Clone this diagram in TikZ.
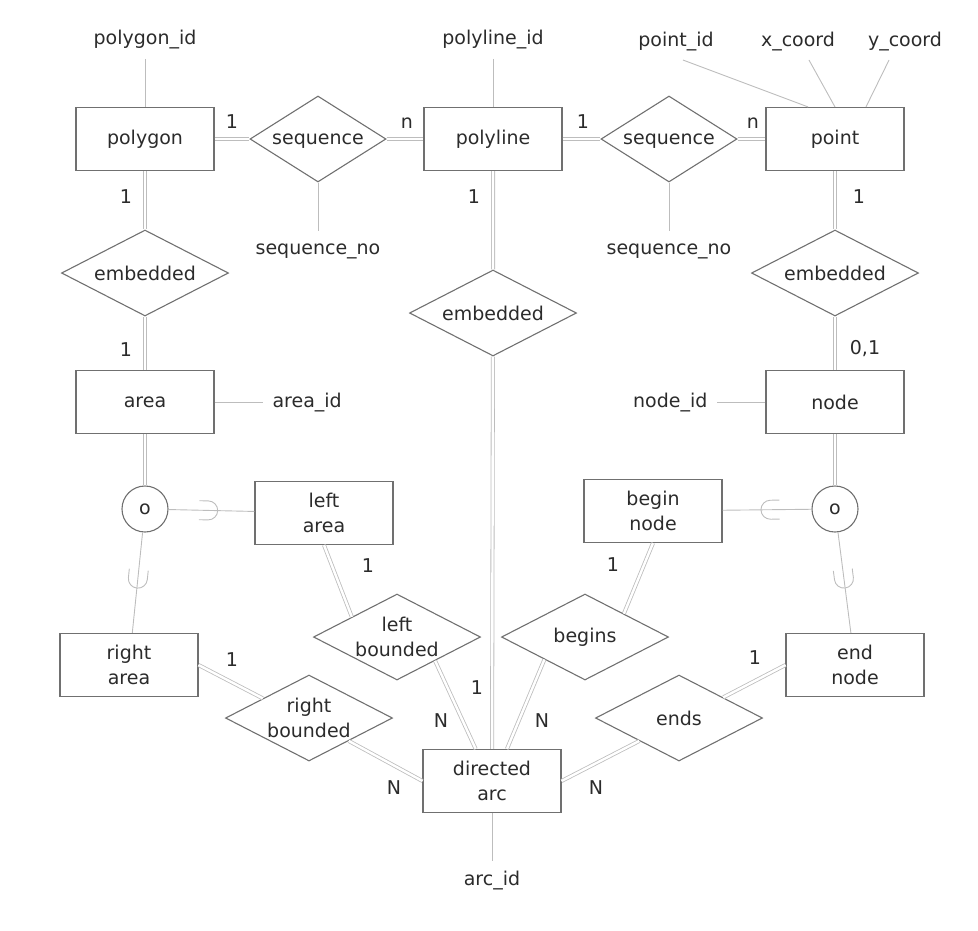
\documentclass[tikz,border=0pt]{standalone}
\usepackage{fontspec}
\setmainfont{DejaVu Sans}
\usepackage{xcolor}
\usetikzlibrary{shapes.geometric, positioning}
\definecolor{boxline}{HTML}{707070}
\definecolor{linkline}{HTML}{BDBDBD}
\definecolor{labeltext}{HTML}{2B2B2B}
\tikzstyle{link} = [draw=linkline, line width=0.9pt]
\tikzstyle{dlink} = [draw=linkline, line width=0.8pt, double=white, double distance=2.4pt]

\begin{document}
\begin{tikzpicture}[x=1pt, y=-1pt, font=\fontsize{19}{25}\selectfont, text=labeltext,
    entity/.style={rectangle, draw=boxline, line width=1.1pt, minimum width=138pt, minimum height=63pt, align=center},
    relation/.style={diamond, draw=boxline, line width=1.1pt, shape aspect=1.94, minimum width=167pt, minimum height=86pt, inner sep=0pt, align=center},
    seqrel/.style={relation, shape aspect=1.58, minimum width=136pt, text height=14pt, text depth=4pt},
    attr/.style={inner sep=1pt, outer sep=9pt, text height=14pt, text depth=4pt},
    card/.style={inner sep=1pt, text height=14pt, text depth=4pt},
    gen/.style={circle, draw=boxline, line width=1.1pt, minimum size=46pt, inner sep=0pt},
    subsetsym/.pic={\draw[link] (-8,-9.5) -- (1,-9.5) arc[start angle=-90, end angle=90, radius=9.5] -- (-8,9.5);}]
    \useasboundingbox (0,0) rectangle (978,930);

    % Top row
    \node[entity] (polygon) at (145,139) {polygon};
    \node[seqrel] (seq1) at (318,139) {sequence};
    \node[entity] (polyline) at (493,139) {polyline};
    \node[seqrel] (seq2) at (669,139) {sequence};
    \node[entity] (point) at (835,139) {point};

    % Attributes
    \node[attr, above=48pt of polygon] (polyid) {polygon\_id};
    \node[attr, above=48pt of polyline] (plid) {polyline\_id};
    \node[attr] (ptid) at (676,41) {point\_id};
    \node[attr] (xcrd) at (798,41) {x\_coord};
    \node[attr] (ycrd) at (905,41) {y\_coord};
    \node[attr, below=48pt of seq1] (seqno1) {sequence\_no};
    \node[attr, below=48pt of seq2] (seqno2) {sequence\_no};

    % Embedding
    \node[relation] (embed1) at (145,273) {embedded};
    \node[relation] (embed2) at (493,313) {embedded};
    \node[relation] (embed3) at (835,273) {embedded};
    \node[entity] (area) at (145,402) {area};
    \node[entity] (nd) at (835,402) {node};
    \node[attr, right=48pt of area] (areaid) {area\_id};
    \node[attr, left=48pt of nd] (nodeid) {node\_id};

    % Specialisation
    \node[gen] (lgen) at (145,509) {o};
    \node[gen] (rgen) at (835,509) {o};
    \node[entity] (larea) at (324,513) {left\\area};
    \node[entity] (bnode) at (653,511) {begin\\node};
    \node[entity] (rarea) at (129,665) {right\\area};
    \node[entity] (enode) at (855,665) {end\\node};

    % Arc relations
    \node[relation] (lbound) at (397,637) {left\\bounded};
    \node[relation] (begins) at (585,637) {begins};
    \node[relation] (rbound) at (309,718) {right\\bounded};
    \node[relation] (ends) at (679,718) {ends};
    \node[entity] (darc) at (492,781) {directed\\arc};
    \node[attr, below=48pt of darc] (arcid) {arc\_id};

    % Cardinalities
    \node[card] (c1) at (232,123) {1};
    \node[card] (c2) at (407,123) {n};
    \node[card] (c3) at (583,123) {1};
    \node[card] (c4) at (753,123) {n};
    \node[card] (c5) at (126,198) {1};
    \node[card] (c6) at (474,198) {1};
    \node[card] (c7) at (859,198) {1};
    \node[card] (c8) at (126,351) {1};
    \node[card] (c9) at (865,349) {0,1};
    \node[card] (c10) at (368,567) {1};
    \node[card] (c11) at (613,566) {1};
    \node[card] (c12) at (232,661) {1};
    \node[card] (c13) at (755,659) {1};
    \node[card] (c14) at (477,689) {1};
    \node[card] (c15) at (441,722) {N};
    \node[card] (c16) at (542,722) {N};
    \node[card] (c17) at (394,789) {N};
    \node[card] (c18) at (596,789) {N};

    % Attribute lines
    \draw[link] (polyid) -- (polygon);
    \draw[link] (plid) -- (polyline);
    \draw[link] (ptid.-70) -- (point.130);
    \draw[link] (xcrd.-60) -- (point.north);
    \draw[link] (ycrd.-130) -- (point.46);
    \draw[link] (seq1) -- (seqno1);
    \draw[link] (seq2) -- (seqno2);
    \draw[link] (area) -- (areaid);
    \draw[link] (nd) -- (nodeid);
    \draw[link] (darc) -- (arcid);

    % Relationship lines
    \draw[dlink] (polygon) -- (seq1) -- (polyline) -- (seq2) -- (point);
    \draw[dlink] (polygon) -- (embed1) -- (area);
    \draw[dlink] (polyline) -- (embed2) -- (darc);
    \draw[dlink] (point) -- (embed3) -- (nd);
    \draw[dlink] (area) -- (lgen);
    \draw[dlink] (nd) -- (rgen);
    \draw[dlink] (larea.south) -- (lbound.156);
    \draw[dlink] (lbound.-32) -- (darc.117);
    \draw[dlink] (bnode.south) -- (begins.31);
    \draw[dlink] (begins.209) -- (darc.65);
    \draw[dlink] (rarea.east) -- (rbound.157);
    \draw[dlink] (rbound.-30) -- (darc.west);
    \draw[dlink] (enode.west) -- (ends.25);
    \draw[dlink] (ends.210) -- (darc.east);

    % Subset links
    \draw[link] (lgen) -- (larea) pic[pos=0.45, sloped, allow upside down] {subsetsym};
    \draw[link] (lgen) -- (rarea) pic[pos=0.45, sloped, allow upside down] {subsetsym};
    \draw[link] (rgen) -- (bnode) pic[pos=0.45, sloped, allow upside down] {subsetsym};
    \draw[link] (rgen) -- (enode) pic[pos=0.45, sloped, allow upside down] {subsetsym};
\end{tikzpicture}
\end{document}
